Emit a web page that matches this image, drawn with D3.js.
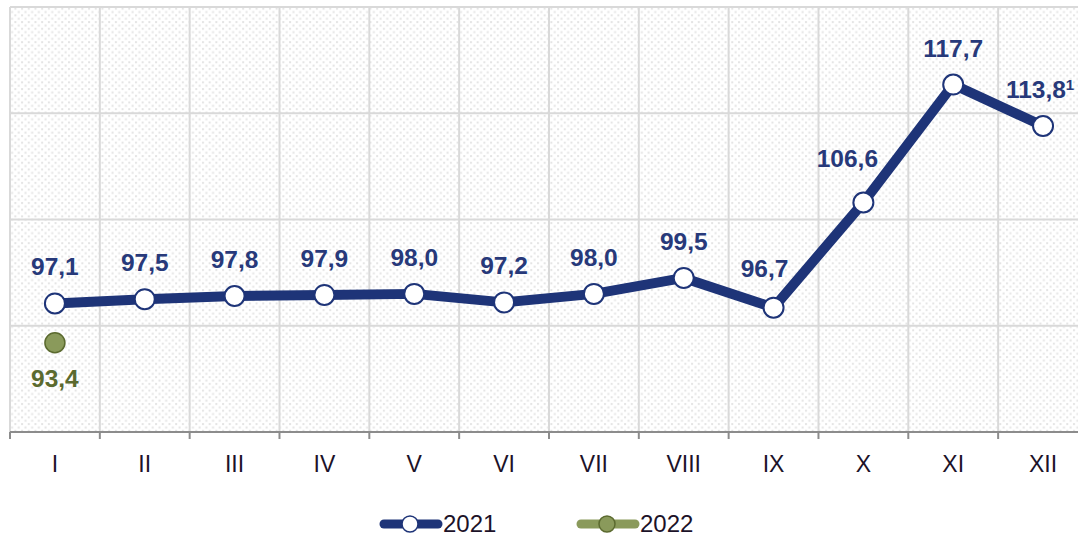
<!DOCTYPE html>
<html lang="en">
<head>
  <meta charset="UTF-8" />
  <title>Monthly index 2021-2022</title>
  <script src="https://d3js.org/d3.v7.min.js"></script>
  <style>
    body {
      margin: 0;
      background: #ffffff;
      font-family: "Liberation Sans", Arial, sans-serif;
    }
    svg { display: block; }
    .value { font-weight: bold; font-size: 24.5px; text-anchor: middle; }
    .month { font-size: 23px; fill: #1c1228; text-anchor: middle; }
    .legend-text { font-size: 24px; fill: #1c1228; }
  </style>
</head>
<body>

<svg id="chart" width="1078" height="536"></svg>

<script>
/* ---------------- DATA ---------------- */

const months = ["I", "II", "III", "IV", "V", "VI", "VII", "VIII", "IX", "X", "XI", "XII"];
const values2021 = [97.1, 97.5, 97.8, 97.9, 98.0, 97.2, 98.0, 99.5, 96.7, 106.6, 117.7, 113.8];
const values2022 = [93.4];
const yTicks = [95, 105, 115, 125];

/* ---------------- SETUP ---------------- */

const navy = "#1e3478";
const navyText = "#27397a";
const olive = "#8a9a5b";
const oliveDark = "#5b6a2f";

const svg = d3.select("#chart");
const plotLeft = 10, plotTop = 7, plotBottom = 432;
const band = 89.83;

const x = d3.scaleBand()
  .domain(months)
  .range([plotLeft, plotLeft + band * months.length])
  .padding(0);

const y = d3.scaleLinear()
  .domain([85, 125])
  .range([plotBottom, plotTop]);

const cx = m => x(m) + x.bandwidth() / 2;

// dotted background
const defs = svg.append("defs");
const pat = defs.append("pattern")
  .attr("id", "dots")
  .attr("patternUnits", "userSpaceOnUse")
  .attr("width", 6.7)
  .attr("height", 6.7);
pat.append("rect").attr("x", 1).attr("y", 1).attr("width", 2).attr("height", 2).attr("fill", "#e4e4e4");
pat.append("rect").attr("x", 4.35).attr("y", 4.35).attr("width", 2).attr("height", 2).attr("fill", "#e4e4e4");

svg.append("rect")
  .attr("x", plotLeft)
  .attr("y", plotTop)
  .attr("width", x.range()[1] - plotLeft)
  .attr("height", plotBottom - plotTop)
  .attr("fill", "url(#dots)");

/* ---------------- GRID ---------------- */

svg.append("g")
  .selectAll("line")
  .data(yTicks)
  .join("line")
  .attr("x1", plotLeft)
  .attr("x2", x.range()[1])
  .attr("y1", d => y(d))
  .attr("y2", d => y(d))
  .attr("stroke", "#d9d9d9")
  .attr("stroke-width", 2);

svg.append("g")
  .selectAll("line")
  .data(months)
  .join("line")
  .attr("x1", d => x(d))
  .attr("x2", d => x(d))
  .attr("y1", plotTop)
  .attr("y2", plotBottom)
  .attr("stroke", "#d9d9d9")
  .attr("stroke-width", 2);

/* ---------------- X AXIS ---------------- */

svg.append("line")
  .attr("x1", plotLeft)
  .attr("x2", x.range()[1])
  .attr("y1", plotBottom)
  .attr("y2", plotBottom)
  .attr("stroke", "#8c8c8c")
  .attr("stroke-width", 2);

svg.append("g")
  .selectAll("line")
  .data(months)
  .join("line")
  .attr("x1", d => x(d))
  .attr("x2", d => x(d))
  .attr("y1", plotBottom)
  .attr("y2", plotBottom + 7)
  .attr("stroke", "#8c8c8c")
  .attr("stroke-width", 2);

svg.append("g")
  .selectAll("text")
  .data(months)
  .join("text")
  .attr("class", "month")
  .attr("x", d => cx(d))
  .attr("y", 472)
  .text(d => d);

/* ---------------- SERIES 2021 ---------------- */

const line = d3.line()
  .x((d, i) => cx(months[i]))
  .y(d => y(d));

svg.append("path")
  .datum(values2021)
  .attr("d", line)
  .attr("fill", "none")
  .attr("stroke", navy)
  .attr("stroke-width", 10)
  .attr("stroke-linejoin", "round");

svg.append("g")
  .selectAll("circle")
  .data(values2021)
  .join("circle")
  .attr("cx", (d, i) => cx(months[i]))
  .attr("cy", d => y(d))
  .attr("r", 10)
  .attr("fill", "#fff")
  .attr("stroke", navy)
  .attr("stroke-width", 2);

// label nudges where the original shifts labels away from the line
const nudge = { 8: [-9, -3], 9: [-16, -8], 11: [-3, 0] };

const labels = svg.append("g")
  .selectAll("text")
  .data(values2021)
  .join("text")
  .attr("class", "value")
  .attr("fill", navyText)
  .attr("x", (d, i) => cx(months[i]) + (nudge[i] ? nudge[i][0] : 0))
  .attr("y", (d, i) => y(d) - 28 + (nudge[i] ? nudge[i][1] : 0))
  .text(d => d.toFixed(1).replace(".", ","));

// footnote mark on December
labels.filter((d, i) => i === 11)
  .append("tspan")
  .attr("font-size", 15)
  .attr("dy", -8)
  .text("1");

/* ---------------- SERIES 2022 ---------------- */

svg.append("g")
  .selectAll("circle")
  .data(values2022)
  .join("circle")
  .attr("cx", (d, i) => cx(months[i]))
  .attr("cy", d => y(d))
  .attr("r", 10)
  .attr("fill", olive)
  .attr("stroke", oliveDark)
  .attr("stroke-width", 1.5);

svg.append("g")
  .selectAll("text")
  .data(values2022)
  .join("text")
  .attr("class", "value")
  .attr("fill", oliveDark)
  .attr("x", (d, i) => cx(months[i]))
  .attr("y", d => y(d) + 44)
  .text(d => d.toFixed(1).replace(".", ","));

/* ---------------- LEGEND ---------------- */

const legend = [
  { name: "2021", x: 380, stroke: navy, fill: "#fff", ring: navy },
  { name: "2022", x: 577, stroke: olive, fill: olive, ring: oliveDark }
];

const lg = svg.append("g")
  .selectAll("g")
  .data(legend)
  .join("g")
  .attr("transform", d => `translate(${d.x},524)`);

lg.append("line")
  .attr("x1", 4).attr("x2", 58)
  .attr("stroke", d => d.stroke)
  .attr("stroke-width", 9)
  .attr("stroke-linecap", "round");

lg.append("circle")
  .attr("cx", 30)
  .attr("r", 8)
  .attr("fill", d => d.fill)
  .attr("stroke", d => d.ring)
  .attr("stroke-width", 1.5);

lg.append("text")
  .attr("class", "legend-text")
  .attr("x", 63)
  .attr("y", 8)
  .text(d => d.name);
</script>

</body>
</html>
